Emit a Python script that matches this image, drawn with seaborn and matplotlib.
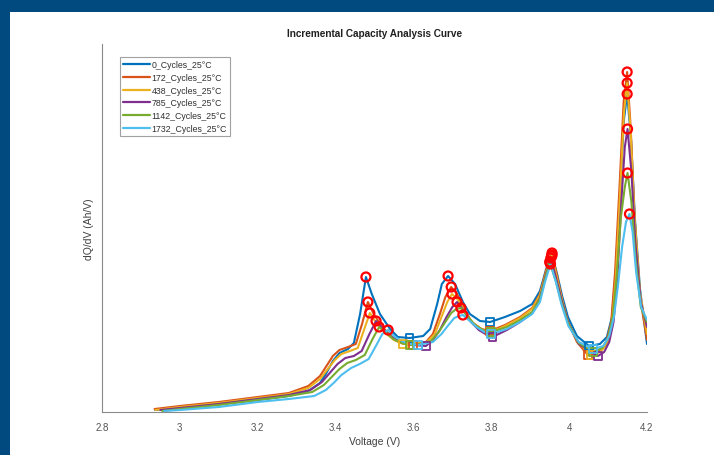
import numpy as np
import pandas as pd
import matplotlib
matplotlib.use("Agg")
import matplotlib.pyplot as plt
import seaborn as sns
from matplotlib.lines import Line2D

# ---------------- data ----------------
labels = ["0_Cycles_25°C", "172_Cycles_25°C", "438_Cycles_25°C",
          "785_Cycles_25°C", "1142_Cycles_25°C", "1732_Cycles_25°C"]
colors = ["#0072BD", "#D95319", "#EDB120", "#7E2F8E", "#77AC30", "#4DBEEE"]

v_0 = [2.936, 3.000, 3.100, 3.200, 3.280, 3.330, 3.360, 3.375, 3.393, 3.410, 3.432, 3.447, 3.463, 3.478,
       3.493, 3.514, 3.540, 3.560, 3.590, 3.625, 3.643, 3.661, 3.673, 3.689, 3.707, 3.727, 3.745, 3.771,
       3.797, 3.835, 3.874, 3.905, 3.925, 3.941, 3.956, 3.969, 3.982, 3.997, 4.020, 4.051, 4.079, 4.097,
       4.110, 4.120, 4.131, 4.141, 4.149, 4.159, 4.169, 4.182, 4.200]
q_0 = [0.2, 0.4, 0.8, 1.2, 1.6, 2.1, 2.9, 3.8, 5.1, 5.9, 6.3, 6.9, 9.8, 13.5,
       11.8, 9.8, 8.3, 7.5, 7.4, 7.6, 8.3, 10.8, 12.8, 13.6, 12.8, 11.0, 9.8, 9.1,
       9.0, 9.5, 10.1, 10.8, 12.1, 14.3, 15.7, 13.8, 11.6, 9.5, 7.6, 6.6, 6.8, 7.5,
       9.5, 14.3, 22.3, 29.3, 31.8, 27.3, 19.3, 12.3, 6.8]

v_172 = [2.935, 3.000, 3.100, 3.200, 3.280, 3.330, 3.360, 3.375, 3.393, 3.410, 3.432, 3.452, 3.468, 3.483,
         3.498, 3.520, 3.545, 3.570, 3.599, 3.630, 3.650, 3.668, 3.682, 3.697, 3.712, 3.732, 3.750, 3.775,
         3.797, 3.835, 3.874, 3.905, 3.925, 3.941, 3.956, 3.969, 3.982, 3.997, 4.020, 4.048, 4.075, 4.095,
         4.108, 4.118, 4.130, 4.140, 4.149, 4.158, 4.168, 4.182, 4.200]
q_172 = [0.3, 0.6, 1.0, 1.5, 1.9, 2.6, 3.6, 4.5, 5.6, 6.2, 6.5, 6.8, 8.8, 11.0,
         9.8, 8.5, 7.5, 6.9, 6.7, 6.9, 7.8, 9.8, 11.5, 12.5, 11.8, 10.2, 9.0, 8.3,
         8.1, 8.7, 9.5, 10.4, 11.8, 14.2, 15.9, 13.6, 11.2, 9.0, 7.0, 5.7, 6.0, 6.9,
         9.0, 14.0, 23.0, 31.0, 34.0, 28.5, 19.5, 11.5, 7.2]

v_438 = [2.937, 3.000, 3.100, 3.200, 3.280, 3.330, 3.360, 3.378, 3.398, 3.415, 3.437, 3.457, 3.473, 3.488,
         3.503, 3.525, 3.550, 3.573, 3.600, 3.635, 3.655, 3.673, 3.687, 3.699, 3.715, 3.735, 3.755, 3.778,
         3.800, 3.835, 3.874, 3.905, 3.925, 3.941, 3.955, 3.968, 3.982, 3.997, 4.022, 4.055, 4.080, 4.098,
         4.110, 4.120, 4.131, 4.141, 4.149, 4.158, 4.168, 4.182, 4.200]
q_438 = [0.2, 0.5, 0.9, 1.4, 1.8, 2.4, 3.3, 4.2, 5.2, 5.8, 6.1, 6.4, 8.2, 9.9,
         9.0, 8.0, 7.2, 6.8, 6.9, 7.0, 7.8, 9.6, 11.0, 11.8, 11.2, 9.8, 8.8, 8.2,
         8.0, 8.6, 9.4, 10.3, 11.7, 14.0, 15.6, 13.5, 11.2, 9.0, 7.0, 5.7, 6.0, 6.8,
         8.8, 13.5, 22.0, 30.0, 32.9, 28.0, 19.5, 12.0, 7.8]

v_785 = [2.950, 3.000, 3.100, 3.200, 3.280, 3.335, 3.365, 3.385, 3.405, 3.425, 3.447, 3.467, 3.487, 3.504,
         3.520, 3.540, 3.565, 3.600, 3.632, 3.650, 3.668, 3.685, 3.700, 3.712, 3.728, 3.748, 3.768, 3.785,
         3.803, 3.840, 3.874, 3.905, 3.925, 3.940, 3.953, 3.967, 3.982, 3.999, 4.025, 4.074, 4.090, 4.103,
         4.114, 4.124, 4.134, 4.143, 4.150, 4.160, 4.170, 4.184, 4.200]
q_785 = [0.2, 0.4, 0.8, 1.3, 1.7, 2.2, 3.0, 3.9, 4.8, 5.4, 5.6, 6.1, 7.8, 9.1,
         8.4, 7.6, 7.0, 6.7, 6.6, 7.2, 8.2, 9.5, 10.5, 11.0, 10.2, 9.0, 8.2, 7.8,
         7.5, 8.2, 9.0, 9.9, 11.4, 13.7, 15.4, 13.3, 11.0, 8.8, 6.8, 5.6, 6.0, 7.0,
         9.0, 13.5, 21.0, 26.5, 28.3, 24.0, 17.0, 11.0, 8.5]

v_1142 = [2.955, 3.000, 3.100, 3.200, 3.280, 3.340, 3.370, 3.390, 3.410, 3.430, 3.452, 3.475, 3.495, 3.512,
          3.528, 3.548, 3.570, 3.590, 3.615, 3.645, 3.665, 3.682, 3.697, 3.710, 3.722, 3.738, 3.758, 3.778,
          3.800, 3.840, 3.874, 3.905, 3.925, 3.939, 3.950, 3.965, 3.980, 3.998, 4.025, 4.062, 4.085, 4.100,
          4.112, 4.122, 4.133, 4.143, 4.150, 4.160, 4.170, 4.184, 4.200]
q_1142 = [0.1, 0.3, 0.7, 1.2, 1.6, 2.0, 2.7, 3.5, 4.3, 4.9, 5.2, 5.7, 7.3, 8.5,
          8.0, 7.3, 6.9, 6.7, 6.8, 7.1, 8.0, 9.0, 9.9, 10.3, 10.4, 9.6, 8.7, 8.2,
          8.0, 8.5, 9.2, 10.0, 11.3, 13.4, 15.0, 13.2, 11.0, 8.8, 6.9, 6.0, 6.4, 7.4,
          9.5, 13.5, 19.5, 22.5, 23.9, 21.0, 15.5, 10.5, 9.0]

v_1732 = [2.960, 3.000, 3.100, 3.200, 3.280, 3.345, 3.375, 3.395, 3.415, 3.440, 3.462, 3.485, 3.505, 3.520,
          3.535, 3.553, 3.575, 3.595, 3.612, 3.650, 3.672, 3.690, 3.705, 3.717, 3.727, 3.742, 3.762, 3.782,
          3.800, 3.840, 3.874, 3.905, 3.925, 3.938, 3.952, 3.966, 3.980, 3.998, 4.025, 4.062, 4.088, 4.103,
          4.115, 4.125, 4.136, 4.146, 4.155, 4.163, 4.172, 4.185, 4.200]
q_1732 = [0.1, 0.2, 0.5, 1.0, 1.3, 1.6, 2.2, 2.9, 3.7, 4.4, 4.8, 5.3, 6.7, 7.8,
          8.2, 7.5, 7.0, 6.8, 6.7, 7.0, 7.8, 8.7, 9.4, 9.6, 9.7, 9.2, 8.5, 8.0,
          7.8, 8.3, 9.0, 9.8, 11.0, 13.0, 14.8, 13.0, 10.8, 8.6, 7.0, 6.3, 6.6, 7.6,
          9.5, 12.5, 16.5, 19.0, 19.8, 18.0, 14.0, 10.5, 9.2]

voltages = [v_0, v_172, v_438, v_785, v_1142, v_1732]
capacities = [q_0, q_172, q_438, q_785, q_1142, q_1732]

x_ticks = [2.8, 3.0, 3.2, 3.4, 3.6, 3.8, 4.0, 4.2]
x_tick_labels = ["2.8", "3", "3.2", "3.4", "3.6", "3.8", "4", "4.2"]

# ---------------- figure ----------------
sns.set_theme(style="white")
plt.rcParams["font.family"] = ["Liberation Sans", "DejaVu Sans"]

fig = plt.figure(figsize=(7.14, 4.56), dpi=100)
fig.patch.set_facecolor("#004A80")
# white panel inside the blue frame
fig.add_artist(plt.Rectangle((10 / 714, 0), 1 - 10 / 714, 1 - 13 / 456,
                             transform=fig.transFigure, facecolor="white",
                             edgecolor="none", zorder=0))

ax = fig.add_axes([102 / 714, 1 - 413 / 456, 545 / 714, 368 / 456])
ax.set_facecolor("white")

frames = []
for lab, v, q in zip(labels, voltages, capacities):
    frames.append(pd.DataFrame({"Voltage": v, "dQdV": q, "series": lab}))
df = pd.concat(frames, ignore_index=True)

sns.lineplot(data=df, x="Voltage", y="dQdV", hue="series", hue_order=labels,
             palette=colors, estimator=None, sort=False, linewidth=1.5,
             legend=False, ax=ax)

# valley squares and peak circles from local extrema of each series
for v, q, c in zip(voltages, capacities, colors):
    v = np.asarray(v)
    q = np.asarray(q)
    mid = np.arange(1, len(q) - 1)
    vmin = mid[(q[mid] < q[mid - 1]) & (q[mid] < q[mid + 1])]
    ax.scatter(v[vmin], q[vmin], marker="s", s=30, facecolors="none",
               edgecolors=c, linewidths=1.3, zorder=5)
for v, q in zip(voltages, capacities):
    v = np.asarray(v)
    q = np.asarray(q)
    mid = np.arange(1, len(q) - 1)
    vmax = mid[(q[mid] > q[mid - 1]) & (q[mid] > q[mid + 1])]
    ax.scatter(v[vmax], q[vmax], marker="o", s=42, facecolors="none",
               edgecolors="#FF0000", linewidths=1.6, zorder=6)

ax.set_xlim(2.8, 4.2)
ax.set_ylim(0, 36.8)
ax.set_xticks(x_ticks)
ax.set_xticklabels(x_tick_labels)
ax.set_yticks([])

for s in ["top", "right"]:
    ax.spines[s].set_visible(False)
for s in ["left", "bottom"]:
    ax.spines[s].set_color("#8a8a8a")
    ax.spines[s].set_linewidth(0.8)

ax.tick_params(axis="x", direction="in", length=4, width=0.8, color="#8a8a8a",
               labelsize=7, labelcolor="#555555", pad=7)

ax.set_xlabel("Voltage (V)", fontsize=7.5, color="#404040", labelpad=3)
ax.set_ylabel("dQ/dV (Ah/V)", fontsize=7.5, color="#404040", labelpad=6)
ax.set_title("Incremental Capacity Analysis Curve", fontsize=7.2,
             fontweight="bold", color="#202020", pad=6)

handles = [Line2D([0], [0], color=c, lw=1.6) for c in colors]
leg = ax.legend(handles, labels, loc="upper left", bbox_to_anchor=(0.033, 0.965),
                fontsize=6.3, frameon=True, fancybox=False, handlelength=3.0,
                handletextpad=0.2, labelspacing=0.42, borderpad=0.4,
                borderaxespad=0)
leg.get_frame().set_edgecolor("#8a8a8a")
leg.get_frame().set_linewidth(0.8)
for t in leg.get_texts():
    t.set_color("#303030")

fig.savefig("out.png", dpi=100, facecolor=fig.get_facecolor())
